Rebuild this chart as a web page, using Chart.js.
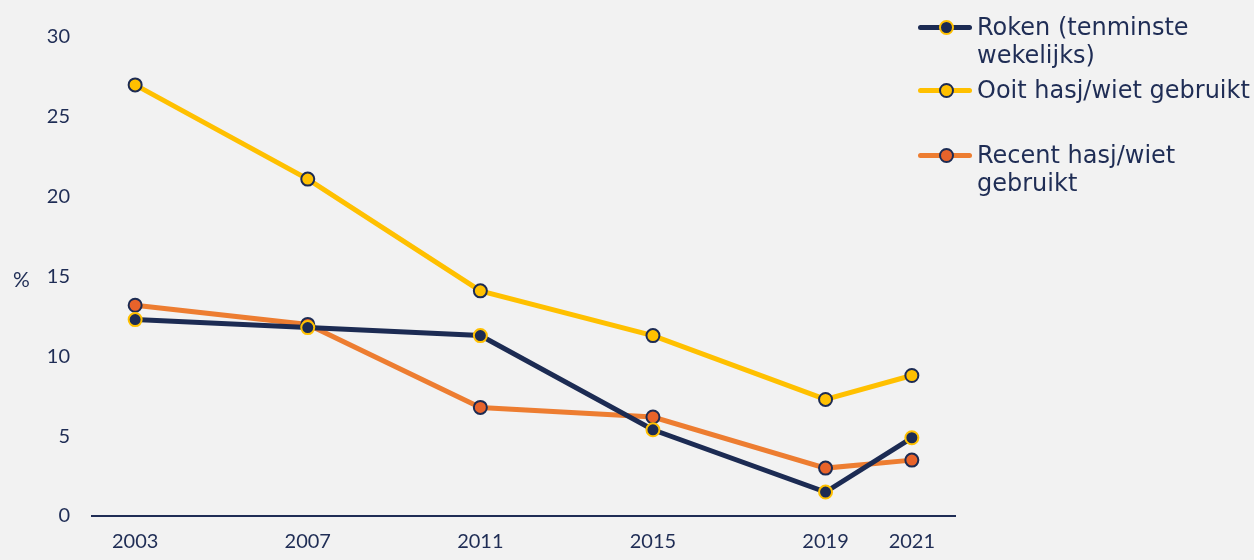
<!DOCTYPE html>
<html>
<head>
<meta charset="utf-8">
<script src="https://cdn.jsdelivr.net/npm/chart.js@4"></script>
<style>
    html, body { margin: 0; padding: 0; background: #f2f2f2; }
    #wrap { position: relative; width: 1254px; height: 560px; }
    #legend { position: absolute; left: 918px; top: 13px; font-family: "DejaVu Sans", Verdana, sans-serif; font-size: 24px; color: #1f2d55; white-space: nowrap; }
    .item { position: relative; padding-left: 59px; line-height: 28px; }
    .swatch { position: absolute; left: 0; top: 12px; width: 54px; height: 5px; border-radius: 3px; }
    .dot { position: absolute; left: 21px; top: -5px; width: 11px; height: 11px; border-radius: 50%; border: 2px solid; }
</style>
</head>
<body>
<div id="wrap">
    <canvas id="chart" width="1254" height="560"></canvas>
    <div id="legend"></div>
</div>
<script>
    const years = [2003, 2007, 2011, 2015, 2019, 2021];
    const yTicks = [0, 5, 10, 15, 20, 25, 30];
    const roken = [12.3, 11.8, 11.3, 5.4, 1.5, 4.9];
    const ooit = [27.0, 21.1, 14.1, 11.3, 7.3, 8.8];
    const recent = [13.2, 12.0, 6.8, 6.2, 3.0, 3.5];

    const navy = '#1f2d55';
    const textColor = '#1f2d55';

    function points(values) {
        return years.map((y, i) => ({ x: y, y: values[i] }));
    }

    const series = [
        { label: 'Roken (tenminste<br>wekelijks)', data: roken, line: '#1c2b53', fill: '#1c2b53', border: '#ffc000', gap: 0 },
        { label: 'Ooit hasj/wiet gebruikt', data: ooit, line: '#ffc000', fill: '#ffc000', border: '#1c2b53', gap: 7 },
        { label: 'Recent hasj/wiet<br>gebruikt', data: recent, line: '#ed7d31', fill: '#e8632a', border: '#1c2b53', gap: 37 }
    ];

    // y axis title drawn horizontally
    const percentTitle = {
        id: 'percentTitle',
        afterDraw(chart) {
            const ctx = chart.ctx;
            ctx.save();
            ctx.font = '21px Lato, sans-serif';
            ctx.fillStyle = textColor;
            ctx.textAlign = 'left';
            ctx.textBaseline = 'middle';
            ctx.fillText('%', 13, 280);
            ctx.restore();
        }
    };

    new Chart(document.getElementById('chart').getContext('2d'), {
        type: 'line',
        data: {
            datasets: series.map(s => ({
                label: s.label,
                data: points(s.data),
                borderColor: s.line,
                borderWidth: 5,
                pointRadius: 6.5,
                pointBorderWidth: 2,
                pointBackgroundColor: s.fill,
                pointBorderColor: s.border,
                tension: 0
            }))
        },
        options: {
            responsive: false,
            animation: false,
            layout: { padding: { top: 37, right: 299, left: 0, bottom: 0 } },
            plugins: { legend: { display: false }, tooltip: { enabled: false } },
            scales: {
                x: {
                    type: 'linear',
                    min: 2002,
                    max: 2022,
                    afterBuildTicks: scale => { scale.ticks = years.map(v => ({ value: v })); },
                    afterFit: scale => { scale.height = 44; },
                    grid: { display: false, drawTicks: false },
                    border: { display: true, color: navy, width: 2 },
                    ticks: { color: textColor, font: { family: 'Lato', size: 20 }, padding: 14, maxRotation: 0, callback: v => String(v) }
                },
                y: {
                    min: 0,
                    max: 30,
                    afterBuildTicks: scale => { scale.ticks = yTicks.map(v => ({ value: v })); },
                    afterFit: scale => { scale.width = 92; },
                    grid: { display: false, drawTicks: false },
                    border: { display: false },
                    ticks: { color: textColor, font: { family: 'Lato', size: 20 }, padding: 22 }
                }
            }
        },
        plugins: [percentTitle]
    });

    const legend = document.getElementById('legend');
    series.forEach(s => {
        const item = document.createElement('div');
        item.className = 'item';
        item.style.marginTop = s.gap + 'px';
        item.innerHTML = `<span class="swatch" style="background:${s.line}"><span class="dot" style="background:${s.fill};border-color:${s.border}"></span></span>${s.label}`;
        legend.appendChild(item);
    });
</script>
</body>
</html>
